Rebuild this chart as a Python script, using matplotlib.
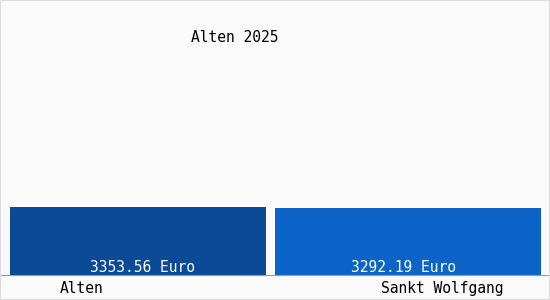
import matplotlib.pyplot as plt

places = ['Alten', 'Sankt Wolfgang']
values = [3353.56, 3292.19]
colors = ['#0b4a97', '#0d64c8']
title = 'Alten 2025'

fig = plt.figure(figsize=(5.5, 3), dpi=100, facecolor='#fafafa')
fig.patches.append(plt.Rectangle((0, 0), 1, 1, transform=fig.transFigure, fill=False, ec='#dddddd', lw=1.5))
ax = fig.add_axes([0, 25 / 300, 1, 275 / 300])
ax.set_facecolor('#fafafa')
x = range(len(places))
ax.bar(x, values, width=[0.948, 0.985], color=colors)
ax.set_xlim(-0.511, 1.526)
ax.set_ylim(0, max(values) * 4.04)
for s in ['top', 'left', 'right']:
    ax.spines[s].set_visible(False)
ax.spines['bottom'].set_color('#999999')
ax.set_yticks([])
ax.set_xticks([])
mono = dict(family='DejaVu Sans Mono', fontsize=10.5)
lab_shift = [-0.207, 0.126]
val_shift = [0.018, -0.018]
for i, v, p, ls, vs in zip(x, values, places, lab_shift, val_shift):
    ax.text(i + vs, 20, f'{v:.2f} Euro', ha='center', va='bottom', color='white', **mono)
    ax.text(i + ls, -0.048, p, ha='center', va='center', transform=ax.get_xaxis_transform(), **mono)
fig.text(235 / 550, 1 - 38 / 300, title, ha='center', va='center', **mono)
fig.savefig('out.png', dpi=100, facecolor=fig.get_facecolor())
